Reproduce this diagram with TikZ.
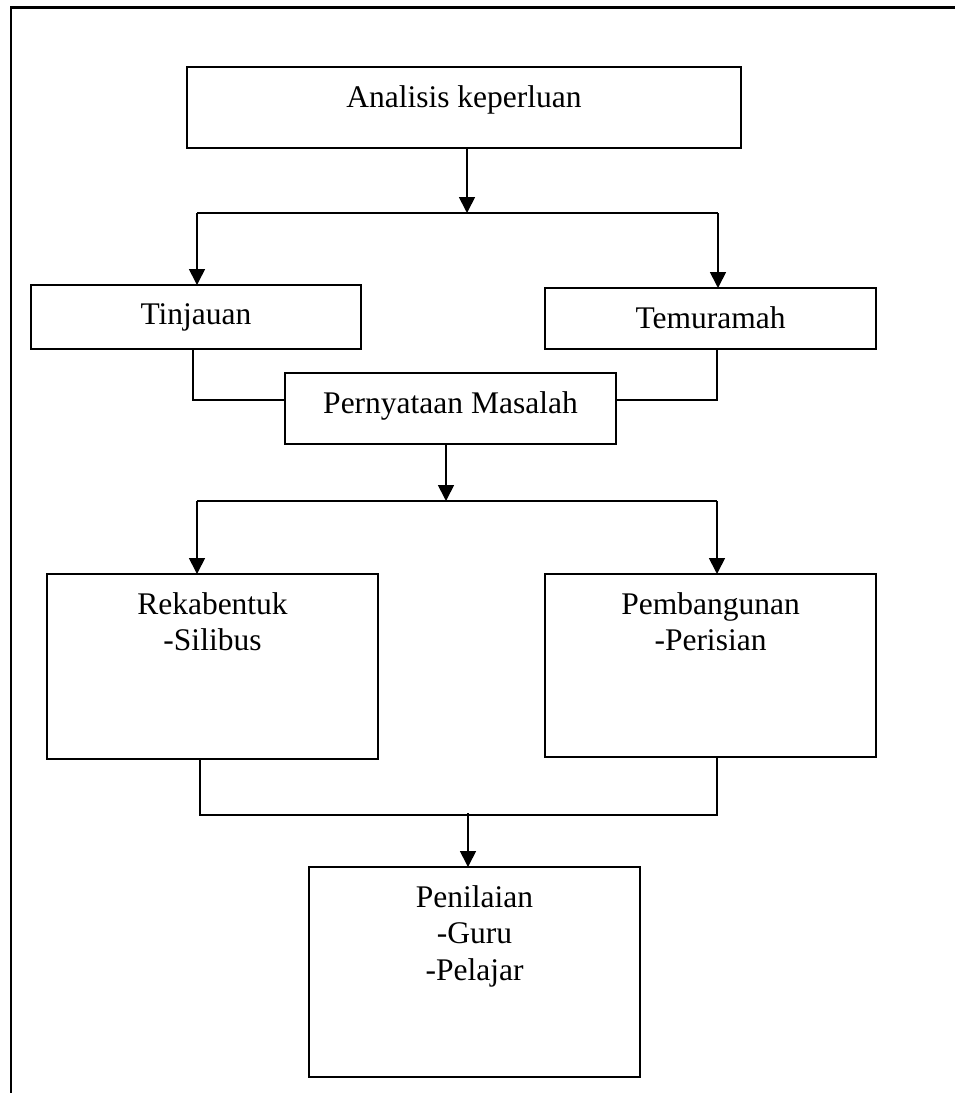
\documentclass[tikz,border=0pt]{standalone}
\usepackage{fontspec}
\setmainfont{Liberation Serif}
\usetikzlibrary{arrows.meta, positioning}
\newcommand{\flowfont}{\fontsize{31.5}{36.7}\selectfont}
\tikzset{%
flow box/.style={
    rectangle, draw,
    line width=1.7pt,
    inner sep=0pt, outer sep=0pt,
    anchor=north west
  },
flow text/.style={
    font=\flowfont,
    align=center,
    anchor=north,
    inner sep=0pt
  },
flow line/.style={line width=1.7pt},
flow arrow/.style={line width=1.7pt, -{Triangle[length=16pt,width=16pt]}},
frame line/.style={line width=2.2pt}
}
\begin{document}
\begin{tikzpicture}[x=1pt,y=-1pt]
\useasboundingbox (0,0) rectangle (955,1093);
\draw[frame line] (955,7.5) -- (11,7.5) -- (11,1093);

% boxes
\node[flow box, minimum width=554pt, minimum height=81pt] (analisis) at (187,67) {};
\node[flow box, minimum width=330pt, minimum height=64pt] (tinjauan) at (31,285) {};
\node[flow box, minimum width=331pt, minimum height=61pt] (temuramah) at (545,288) {};
\node[flow box, minimum width=331pt, minimum height=71pt] (pernyataan) at (285,373) {};
\node[flow box, minimum width=331pt, minimum height=185pt] (rekabentuk) at (47,574) {};
\node[flow box, minimum width=331pt, minimum height=183pt] (pembangunan) at (545,574) {};
\node[flow box, minimum width=331pt, minimum height=210pt] (penilaian) at (309,867) {};

% texts
\node[flow text] (analisisText) at ([yshift=-18pt]analisis.north) {Analisis keperluan};
\node[flow text] (tinjauanText) at ([yshift=-18pt]tinjauan.north) {Tinjauan};
\node[flow text] (temuramahText) at ([yshift=-18pt]temuramah.north) {Temuramah};
\node[flow text] (pernyataanText) at ([yshift=-18pt]pernyataan.north) {Pernyataan Masalah};
\node[flow text] (rekabentukText) at ([yshift=-18pt]rekabentuk.north) {Rekabentuk\\-Silibus};
\node[flow text] (pembangunanText) at ([yshift=-18pt]pembangunan.north) {Pembangunan\\-Perisian};
\node[flow text] (penilaianText) at ([yshift=-18pt]penilaian.north) {Penilaian\\-Guru\\-Pelajar};

% junctions
\coordinate (forkA) at (467,213);
\coordinate (forkAL) at (197,213);
\coordinate (forkAR) at (718,213);
\coordinate (joinL) at (193,400);
\coordinate (joinR) at (717,400);
\coordinate (forkB) at (446,501);
\coordinate (forkBL) at (197,501);
\coordinate (forkBR) at (717,501);
\coordinate (joinBL) at (200,815);
\coordinate (joinBR) at (717,815);
\coordinate (joinB) at (468,813);

% connectors
\draw[flow arrow] (analisis.south -| forkA) -- (forkA);
\draw[flow line] (forkAL) -- (forkAR);
\draw[flow arrow] (forkAL) -- (forkAL |- tinjauan.north);
\draw[flow arrow] (forkAR) -- (forkAR |- temuramah.north);

\draw[flow line] (tinjauan.south -| joinL) -- (joinL) -- (joinL -| pernyataan.west);
\draw[flow line] (temuramah.south -| joinR) -- (joinR) -- (joinR -| pernyataan.east);

\draw[flow arrow] (pernyataan.south -| forkB) -- (forkB);
\draw[flow line] (forkBL) -- (forkBR);
\draw[flow arrow] (forkBL) -- (forkBL |- rekabentuk.north);
\draw[flow arrow] (forkBR) -- (forkBR |- pembangunan.north);

\draw[flow line] (rekabentuk.south -| joinBL) -- (joinBL) -- (joinBR) -- (pembangunan.south -| joinBR);
\draw[flow arrow] (joinB) -- (joinB |- penilaian.north);
\end{tikzpicture}
\end{document}
